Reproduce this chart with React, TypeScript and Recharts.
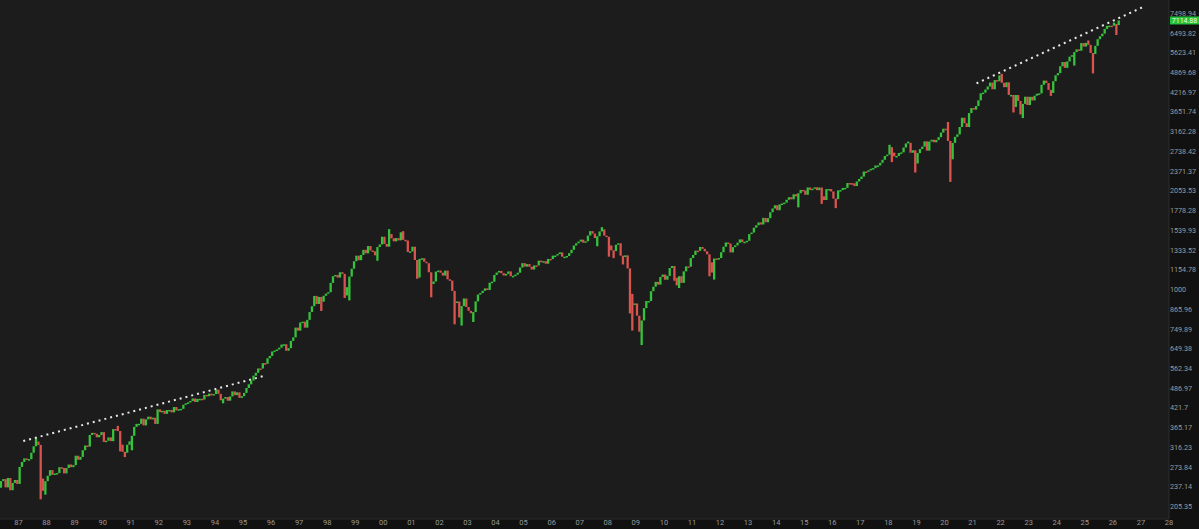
import { ComposedChart, Bar, XAxis, YAxis, CartesianGrid, ReferenceLine } from "recharts";

const W = 1199;
const H = 529;
const UP = "#35c23c";
const DOWN = "#d9534f";

// monthly closes, starting May 1986
const FIRST_OPEN = 235.52;
const START_YEAR = 1986;
const START_MONTH = 4;

const closes1986to1989 = [
  247.35, 250.84, 236.12, 252.93, 231.32, 243.98, 249.22, 242.17,
  274.08, 284.2, 291.7, 288.36, 290.1, 304.0, 318.66, 329.8, 321.83, 251.79, 230.3, 247.08,
  257.07, 267.82, 258.89, 261.33, 262.16, 273.5, 272.02, 261.52, 271.91, 278.97, 273.7, 277.72,
  297.47, 288.86, 294.87, 309.64, 320.52, 317.98, 346.08, 351.45, 349.15, 340.36, 345.99, 353.4,
];
const closes1990to1994 = [
  329.08, 331.89, 339.94, 330.8, 361.23, 358.02, 356.15, 322.56, 306.05, 304.0, 322.22, 330.22,
  343.93, 367.07, 375.22, 375.35, 389.83, 371.16, 387.81, 395.43, 387.86, 392.46, 375.22, 417.09,
  408.79, 412.7, 403.69, 414.95, 415.35, 408.14, 424.21, 414.03, 417.8, 418.68, 431.35, 435.71,
  438.78, 443.38, 451.67, 440.19, 450.19, 450.53, 448.13, 463.56, 458.93, 467.83, 461.79, 466.45,
  481.61, 467.14, 445.77, 450.91, 456.5, 444.27, 458.26, 475.49, 462.69, 472.35, 453.69, 459.27,
];
const closes1995to1999 = [
  470.42, 487.39, 500.71, 514.71, 533.4, 544.75, 562.06, 561.88, 584.41, 581.5, 605.37, 615.93,
  636.02, 640.43, 645.5, 654.17, 669.12, 670.63, 639.95, 651.99, 687.31, 705.27, 757.02, 740.74,
  786.16, 790.82, 757.12, 801.34, 848.28, 885.14, 954.29, 899.47, 947.28, 914.62, 955.4, 970.43,
  980.28, 1049.34, 1101.75, 1111.75, 1090.82, 1133.84, 1120.67, 957.28, 1017.01, 1098.67, 1163.63, 1229.23,
  1279.64, 1238.33, 1286.37, 1335.18, 1301.84, 1372.71, 1328.72, 1320.41, 1282.71, 1362.93, 1388.91, 1469.25,
];
const closes2000to2004 = [
  1394.46, 1366.42, 1498.58, 1452.43, 1420.6, 1454.6, 1430.83, 1517.68, 1436.51, 1429.4, 1314.95, 1320.28,
  1366.01, 1239.94, 1160.33, 1249.46, 1255.82, 1224.42, 1211.23, 1133.58, 1040.94, 1059.78, 1139.45, 1148.08,
  1130.2, 1106.73, 1147.39, 1076.92, 1067.14, 989.82, 911.62, 916.07, 815.28, 885.76, 936.31, 879.82,
  855.7, 841.15, 848.18, 916.92, 963.59, 974.5, 990.31, 1008.01, 995.97, 1050.71, 1058.2, 1111.92,
  1131.13, 1144.94, 1126.21, 1107.3, 1120.68, 1140.84, 1101.72, 1104.24, 1114.58, 1130.2, 1173.82, 1211.92,
];
const closes2005to2009 = [
  1181.27, 1203.6, 1180.59, 1156.85, 1191.5, 1191.33, 1234.18, 1220.33, 1228.81, 1207.01, 1249.48, 1248.29,
  1280.08, 1280.66, 1294.83, 1310.61, 1270.09, 1270.2, 1276.66, 1303.82, 1335.85, 1377.94, 1400.63, 1418.3,
  1438.24, 1406.82, 1420.86, 1482.37, 1530.62, 1503.35, 1455.27, 1473.99, 1526.75, 1549.38, 1481.14, 1468.36,
  1378.55, 1330.63, 1322.7, 1385.59, 1400.38, 1280.0, 1267.38, 1282.83, 1166.36, 968.75, 896.24, 903.25,
  825.88, 735.09, 797.87, 872.81, 919.14, 919.32, 987.48, 1020.62, 1057.08, 1036.19, 1095.63, 1115.1,
];
const closes2010to2014 = [
  1073.87, 1104.49, 1169.43, 1186.69, 1089.41, 1030.71, 1101.6, 1049.33, 1141.2, 1183.26, 1180.55, 1257.64,
  1286.12, 1327.22, 1325.83, 1363.61, 1345.2, 1320.64, 1292.28, 1218.89, 1131.42, 1253.3, 1246.96, 1257.6,
  1312.41, 1365.68, 1408.47, 1397.91, 1310.33, 1362.16, 1379.32, 1406.58, 1440.67, 1412.16, 1416.18, 1426.19,
  1498.11, 1514.68, 1569.19, 1597.57, 1630.74, 1606.28, 1685.73, 1632.97, 1681.55, 1756.54, 1805.81, 1848.36,
  1782.59, 1859.45, 1872.34, 1883.95, 1923.57, 1960.23, 1930.67, 2003.37, 1972.29, 2018.05, 2067.56, 2058.9,
];
const closes2015to2019 = [
  1994.99, 2104.5, 2067.89, 2085.51, 2107.39, 2063.11, 2103.84, 1972.18, 1920.03, 2079.36, 2080.41, 2043.94,
  1940.24, 1932.23, 2059.74, 2065.3, 2096.95, 2098.86, 2173.6, 2170.95, 2168.27, 2126.15, 2198.81, 2238.83,
  2278.87, 2363.64, 2362.72, 2384.2, 2411.8, 2423.41, 2470.3, 2471.65, 2519.36, 2575.26, 2647.58, 2673.61,
  2823.81, 2713.83, 2640.87, 2648.05, 2705.27, 2718.37, 2816.29, 2901.52, 2913.98, 2711.74, 2760.17, 2506.85,
  2704.1, 2784.49, 2834.4, 2945.83, 2752.06, 2941.76, 2980.38, 2926.46, 2976.74, 3037.56, 3140.98, 3230.78,
];
const closes2020to2026 = [
  3225.52, 2954.22, 2584.59, 2912.43, 3044.31, 3100.29, 3271.12, 3500.31, 3363.0, 3269.96, 3621.63, 3756.07,
  3714.24, 3811.15, 3972.89, 4181.17, 4204.11, 4297.5, 4395.26, 4522.68, 4307.54, 4605.38, 4567.0, 4766.18,
  4515.55, 4373.94, 4530.41, 4131.93, 4132.15, 3785.38, 4130.29, 3955.0, 3585.62, 3871.98, 4080.11, 3839.5,
  4076.6, 3970.15, 4109.31, 4169.48, 4179.83, 4450.38, 4588.96, 4507.66, 4288.05, 4193.8, 4567.8, 4769.83,
  4845.65, 5096.27, 5254.35, 5035.69, 5277.51, 5460.48, 5522.3, 5648.4, 5762.48, 5705.45, 6032.38, 5881.63,
  6040.53, 5954.5, 5611.85, 5569.06, 5911.69, 6204.95, 6339.39, 6460.26, 6688.46, 6840.2, 6849.09, 6845.5,
  6939.03, 6880.0, 7114.88,
];

// intramonth extremes that stick out past the open/close
const wickLows: [string, number][] = [
  ["1987-10", 216.46], ["1987-12", 223.9], ["1990-08", 307.0], ["1990-10", 294.5], ["1991-01", 309.5],
  ["1994-04", 435.9], ["1997-10", 855.0], ["1998-08", 940.0], ["1998-10", 923.3], ["1999-10", 1233.0],
  ["2001-03", 1081.0], ["2001-04", 1091.0], ["2001-09", 944.8], ["2002-07", 775.7], ["2002-10", 768.6],
  ["2003-03", 788.9], ["2007-08", 1370.6], ["2008-01", 1270.0], ["2008-03", 1257.0], ["2008-07", 1200.4],
  ["2008-10", 839.8], ["2008-11", 741.0], ["2009-03", 666.8], ["2010-05", 1065.8], ["2010-07", 1010.9],
  ["2011-08", 1101.5], ["2011-10", 1074.8], ["2014-10", 1820.7], ["2015-08", 1867.0], ["2016-02", 1810.1],
  ["2018-02", 2532.7], ["2018-12", 2346.6], ["2020-03", 2191.9], ["2022-06", 3636.9], ["2022-10", 3491.6],
  ["2023-10", 4103.8], ["2024-08", 5119.3], ["2025-04", 4835.0], ["2026-02", 6400.0],
];
const wickHighs: [string, number][] = [
  ["1987-08", 337.9], ["1990-07", 369.8], ["2000-03", 1552.9], ["2000-09", 1530.1], ["2007-10", 1576.1],
  ["2018-01", 2872.9], ["2018-09", 2940.9], ["2020-02", 3393.5], ["2022-01", 4818.6], ["2025-02", 6147.4],
  ["2026-01", 7002.0],
];

const yearTicks = Array.from({ length: 42 }, (_, i) => 1987 + i);
const priceTicks = Array.from({ length: 26 }, (_, i) => Math.pow(10, (37 + i) / 16));

// dotted trend lines [year, price]
const trendEarly = [
  { x: 1987.17, y: 331 },
  { x: 1995.84, y: 535 },
];
const trendLate = [
  { x: 2021.14, y: 4498 },
  { x: 2027.1, y: 7865 },
];

const LAST_PRICE = 7114.88;

const closes = [
  ...closes1986to1989, ...closes1990to1994, ...closes1995to1999, ...closes2000to2004,
  ...closes2005to2009, ...closes2010to2014, ...closes2015to2019, ...closes2020to2026,
];
const lowMap = new Map(wickLows);
const highMap = new Map(wickHighs);

const data = closes.map((close, i) => {
  const m = START_MONTH + i;
  const year = START_YEAR + Math.floor(m / 12);
  const month = m % 12;
  const key = `${year}-${String(month + 1).padStart(2, "0")}`;
  const open = i === 0 ? FIRST_OPEN : closes[i - 1];
  const lo = Math.min(open, close, lowMap.get(key) ?? Infinity);
  const hi = Math.max(open, close, highMap.get(key) ?? -Infinity);
  return { t: year + (month + 0.5) / 12, range: [lo, hi], up: close >= open };
});

const Candle = (props: any) => {
  const { x, y, width, height, payload } = props;
  const h = Math.max(Math.abs(height), 1.5);
  return <rect x={x} y={y} width={width} height={h} fill={payload.up ? UP : DOWN} />;
};

const PriceBadge = (props: any) => {
  const { viewBox } = props;
  const bx = viewBox.x + viewBox.width + 1;
  return (
    <g>
      <rect x={bx} y={viewBox.y - 4} width={29} height={8} fill="#22c23a" />
      <text x={bx + 14.5} y={viewBox.y + 2.6} textAnchor="middle" fontSize={7} fill="#eaffea">
        {LAST_PRICE.toFixed(2)}
      </text>
    </g>
  );
};

export default function App() {
  return (
    <div style={{ width: W, height: H, background: "#111111", fontFamily: "Roboto, sans-serif" }}>
      <style>{`body{margin:0;background:#111111}`}</style>
      <ComposedChart width={W} height={H} data={data} margin={{ top: 0, right: 0, bottom: 0, left: 0 }}>
        <CartesianGrid horizontal={false} vertical={false} fill="#1c1c1c" />
        <XAxis
          dataKey="t"
          type="number"
          domain={[1986.341, 2028]}
          ticks={yearTicks}
          tickFormatter={(v: number) => String(v % 100).padStart(2, "0")}
          height={10}
          tickSize={0}
          tickMargin={1}
          axisLine={{ stroke: "#2c2c2c" }}
          tick={{ fontSize: 7.5, fill: "#9a9a9a" }}
          interval={0}
          allowDataOverflow
        />
        <YAxis
          type="number"
          scale="log"
          orientation="right"
          domain={[187.5, 8260]}
          ticks={priceTicks}
          tickFormatter={(v: number) => String(+v.toFixed(2))}
          width={30}
          tickSize={0}
          tickMargin={1}
          axisLine={{ stroke: "#2c2c2c" }}
          tick={{ fontSize: 7.2, fill: "#9a9a9a", textAnchor: "start" }}
          interval={0}
          allowDataOverflow
        />
        <Bar dataKey="range" barSize={2.3} shape={Candle} isAnimationActive={false} />
        <ReferenceLine
          segment={trendEarly}
          stroke="#e8e8e8"
          strokeWidth={2}
          strokeDasharray="2 4"
          ifOverflow="visible"
        />
        <ReferenceLine
          segment={trendLate}
          stroke="#e8e8e8"
          strokeWidth={2}
          strokeDasharray="2 4"
          ifOverflow="visible"
        />
        <ReferenceLine y={LAST_PRICE} stroke="none" ifOverflow="visible" label={<PriceBadge />} />
      </ComposedChart>
    </div>
  );
}
